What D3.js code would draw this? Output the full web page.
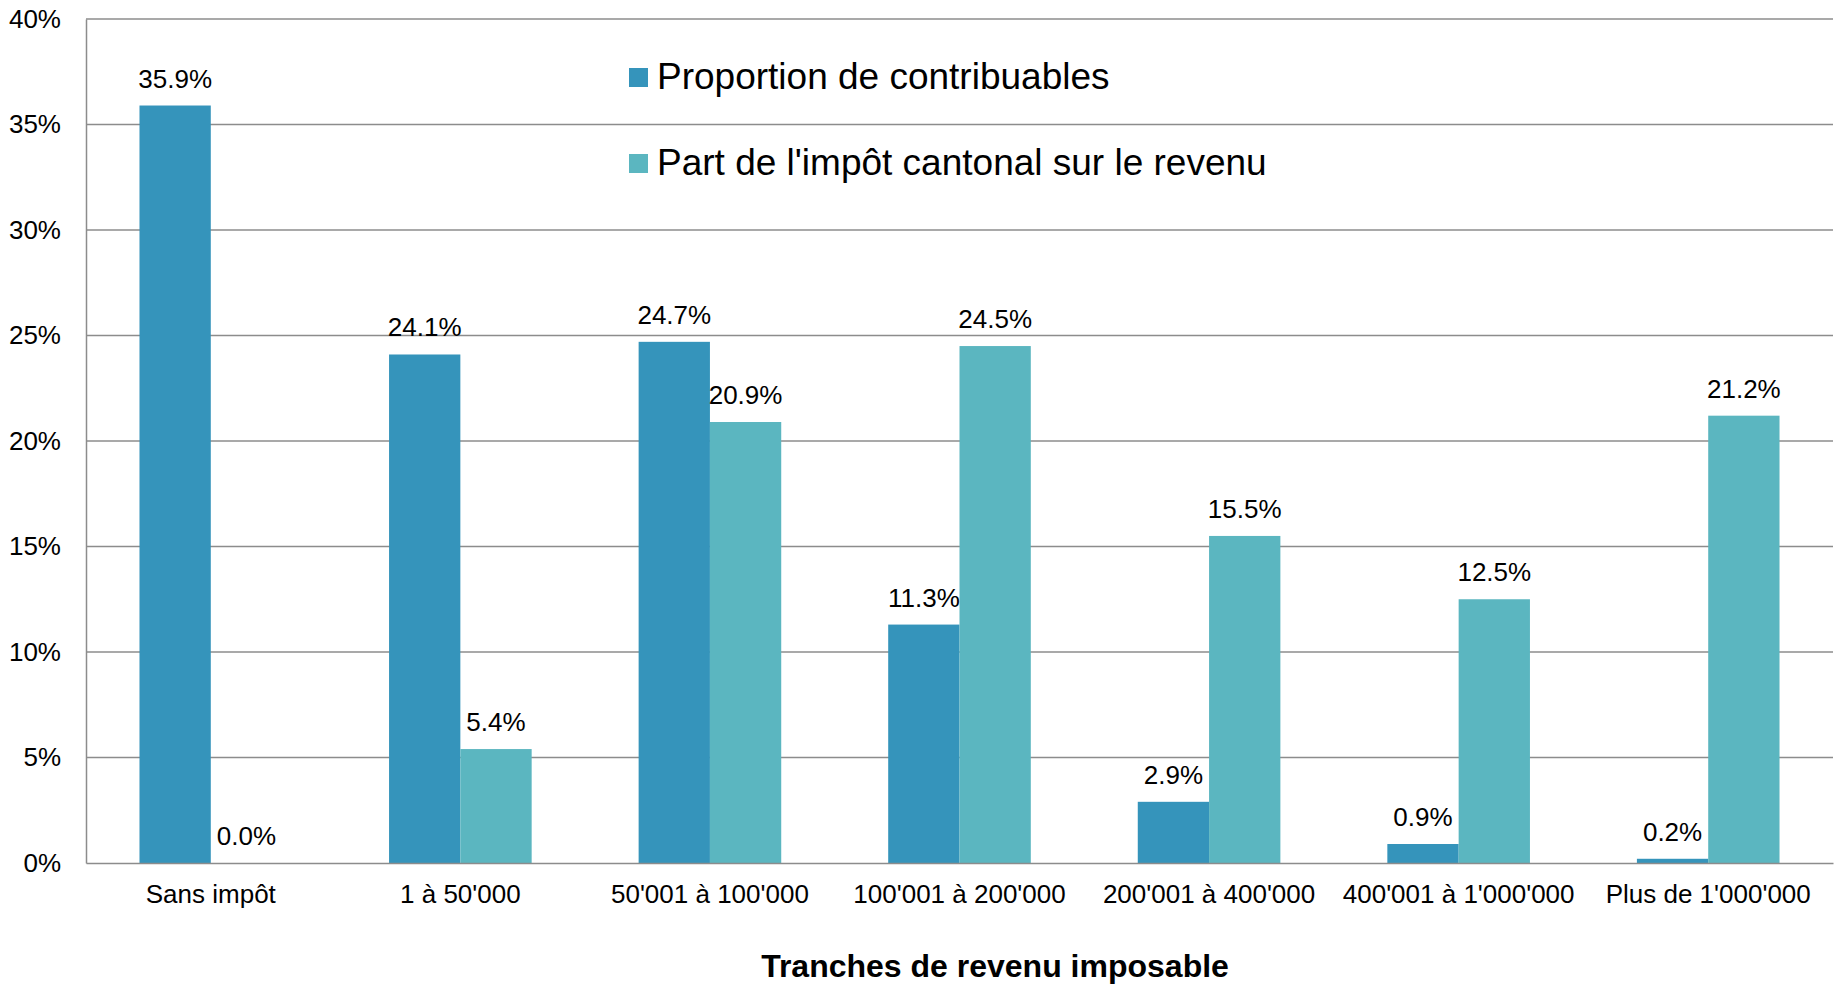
<!DOCTYPE html>
<html>
<head>
<meta charset="utf-8">
<script src="https://cdn.jsdelivr.net/npm/d3@7"></script>
<style>
  html, body { margin: 0; padding: 0; background: #fff; }
  svg { display: block; font-family: "Liberation Sans", Arial, sans-serif; }
</style>
</head>
<body>
<svg id="chart" width="1843" height="985"></svg>
<script>
const categories = ["Sans impôt", "1 à 50'000", "50'001 à 100'000", "100'001 à 200'000", "200'001 à 400'000", "400'001 à 1'000'000", "Plus de 1'000'000"];
const seriesNames = ["Proportion de contribuables", "Part de l'impôt cantonal sur le revenu"];
const proportionContribuables = [35.9, 24.1, 24.7, 11.3, 2.9, 0.9, 0.2];
const partImpotCantonal = [0.0, 5.4, 20.9, 24.5, 15.5, 12.5, 21.2];
const yTicks = [0, 5, 10, 15, 20, 25, 30, 35, 40];
const xTitle = "Tranches de revenu imposable";
const colors = ["#3594bb", "#5bb6c0"];

const W = 1843, H = 985;
const m = { left: 86, right: 10, top: 19, bottom: 122 };
const svg = d3.select("#chart");

const x0 = d3.scaleBand().domain(categories).range([m.left, W - m.right])
  .paddingInner(0.4286).paddingOuter(0.2143);
const x1 = d3.scaleBand().domain([0, 1]).range([0, x0.bandwidth()]);
const y = d3.scaleLinear().domain([0, 40]).range([H - m.bottom, m.top]);

// gridlines
svg.append("g").selectAll("line").data(yTicks.filter(d => d > 0)).join("line")
  .attr("x1", m.left).attr("x2", W - m.right)
  .attr("y1", d => y(d)).attr("y2", d => y(d))
  .attr("stroke", "#8c8c8c").attr("stroke-width", 1.5);

// y axis
const yAxis = svg.append("g").attr("transform", `translate(${m.left},0)`)
  .call(d3.axisLeft(y).tickValues(yTicks).tickSize(0).tickPadding(25).tickFormat(d => d + "%"));
yAxis.select(".domain").attr("stroke", "#8c8c8c").attr("stroke-width", 1.5);
yAxis.selectAll("text").attr("font-size", 26).attr("fill", "#000")
  .attr("font-family", "Liberation Sans, Arial, sans-serif");

const seriesData = [proportionContribuables, partImpotCantonal];
const rows = categories.map((c, i) => ({ cat: c, vals: seriesData.map(s => s[i]) }));

const groups = svg.append("g").selectAll("g").data(rows).join("g")
  .attr("transform", d => `translate(${x0(d.cat)},0)`);

groups.selectAll("rect").data(d => d.vals.map((v, k) => ({ v, k }))).join("rect")
  .attr("x", d => x1(d.k)).attr("width", x1.bandwidth())
  .attr("y", d => y(d.v)).attr("height", d => y(0) - y(d.v))
  .attr("fill", d => colors[d.k]);

groups.selectAll("text.lbl").data(d => d.vals.map((v, k) => ({ v, k }))).join("text")
  .attr("class", "lbl")
  .attr("x", d => x1(d.k) + x1.bandwidth() / 2)
  .attr("y", d => y(d.v) - 18)
  .attr("text-anchor", "middle").attr("font-size", 26).attr("fill", "#000")
  .text(d => d3.format(".1f")(d.v) + "%");

// x axis
const xAxis = svg.append("g").attr("transform", `translate(0,${y(0)})`)
  .call(d3.axisBottom(x0).tickSize(0).tickPadding(22));
xAxis.select(".domain").attr("stroke", "#8c8c8c").attr("stroke-width", 1.5);
xAxis.selectAll("text").attr("font-size", 26).attr("fill", "#000")
  .attr("font-family", "Liberation Sans, Arial, sans-serif");

// x title
svg.append("text").attr("x", 995).attr("y", 977)
  .attr("text-anchor", "middle").attr("font-size", 32).attr("font-weight", "bold")
  .text(xTitle);

// legend
const leg = svg.append("g").selectAll("g").data(seriesNames).join("g")
  .attr("transform", (d, i) => `translate(629,${68 + i * 86})`);
leg.append("rect").attr("width", 19).attr("height", 19).attr("fill", (d, i) => colors[i]);
leg.append("text").attr("x", 28).attr("y", 21).attr("font-size", 37).attr("fill", "#000").text(d => d);
</script>
</body>
</html>
